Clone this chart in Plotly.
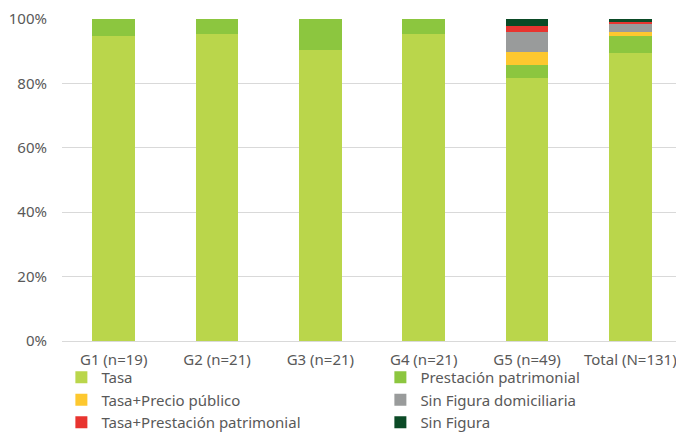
import plotly.graph_objects as go

categories = ["G1 (n=19)", "G2 (n=21)", "G3 (n=21)", "G4 (n=21)", "G5 (n=49)", "Total (N=131)"]
series_names = ["Tasa", "Prestación patrimonial", "Tasa+Precio público",
                "Sin Figura domiciliaria", "Tasa+Prestación patrimonial", "Sin Figura"]
tasa = [94.7, 95.2, 90.5, 95.2, 81.6, 89.3]
prestacion = [5.3, 4.8, 9.5, 4.8, 4.1, 5.3]
tasa_precio = [0, 0, 0, 0, 4.1, 1.5]
sin_fig_dom = [0, 0, 0, 0, 6.1, 2.3]
tasa_prest = [0, 0, 0, 0, 2.0, 0.8]
sin_figura = [0, 0, 0, 0, 2.0, 0.8]
colors = ["#BAD64B", "#8CC63F", "#FDC82F", "#999B9B", "#E8342F", "#0B4A26"]

values = [tasa, prestacion, tasa_precio, sin_fig_dom, tasa_prest, sin_figura]

fig = go.Figure()
for name, vals, col in zip(series_names, values, colors):
    fig.add_trace(go.Bar(x=categories, y=vals, name=name, marker_color=col,
                         marker_line_width=0))

fig.update_layout(
    barmode="stack",
    width=676, height=435,
    margin=dict(l=54, r=2, t=11, b=102, autoexpand=False),
    plot_bgcolor="white", paper_bgcolor="white",
    bargap=0.59,
    font=dict(family="Noto Sans, sans-serif", size=15, color="#595959"),
    showlegend=True,
    legend=dict(orientation="h", x=-0.001, y=-0.062,
                xanchor="left", yanchor="top", bgcolor="rgba(0,0,0,0)",
                entrywidth=274, tracegroupgap=0, traceorder="normal",
                font=dict(size=15, color="#595959"), itemwidth=30),
    xaxis=dict(showline=True, linecolor="#D9D9D9", linewidth=1, ticks="",
               tickfont=dict(size=15), ticklabelstandoff=5),
    yaxis=dict(range=[0, 100], tickvals=[0, 20, 40, 60, 80, 100],
               ticktext=["0%", "20%", "40%", "60%", "80%", "100%"],
               showgrid=True, gridcolor="#D9D9D9", gridwidth=1, zeroline=False,
               ticks="", ticklen=0, tickfont=dict(size=15), ticklabelstandoff=14),
)

fig.write_html("out.html")
